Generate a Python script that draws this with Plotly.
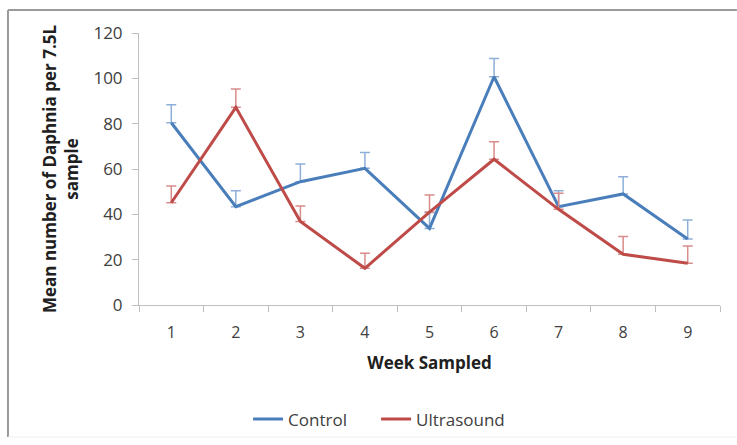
import plotly.graph_objects as go

weeks = ["1", "2", "3", "4", "5", "6", "7", "8", "9"]
control = [80.4, 43.4, 54.4, 60.3, 33.8, 100.7, 43.4, 49.0, 29.1]
control_err = [8.0, 7.0, 7.8, 7.0, 7.0, 8.1, 7.0, 7.6, 8.4]
ultrasound = [45.1, 87.2, 36.8, 16.2, 41.0, 64.3, 42.2, 22.4, 18.4]
ultrasound_err = [7.4, 8.1, 6.9, 6.6, 7.5, 7.7, 7.1, 7.8, 7.6]
y_ticks = [0, 20, 40, 60, 80, 100, 120]

fig = go.Figure()
fig.add_trace(go.Scatter(
    x=weeks, y=control, mode="lines", name="Control",
    line=dict(color="#4a7ebb", width=3),
    error_y=dict(type="data", symmetric=False, array=control_err,
                 arrayminus=[0] * len(control), color="#8eb0d8",
                 thickness=1.5, width=5),
))
fig.add_trace(go.Scatter(
    x=weeks, y=ultrasound, mode="lines", name="Ultrasound",
    line=dict(color="#be4b48", width=3),
    error_y=dict(type="data", symmetric=False, array=ultrasound_err,
                 arrayminus=[0] * len(ultrasound), color="#d98c8a",
                 thickness=1.5, width=5),
))

font_fam = "'Open Sans', sans-serif"
fig.update_layout(
    width=737, height=445,
    margin=dict(l=139, r=17, t=33, b=140, autoexpand=False),
    paper_bgcolor="white", plot_bgcolor="white",
    font=dict(family=font_fam, color="#404040", size=15),
    showlegend=True,
    legend=dict(orientation="h", x=0.408, xanchor="center", y=-0.355, yanchor="top",
                font=dict(size=17, color="#404040"), traceorder="normal",
                bgcolor="rgba(0,0,0,0)",
                entrywidth=83, entrywidthmode="pixels"),
    xaxis=dict(type="category", range=[-0.5, 8.5], tickson="boundaries",
               ticks="outside", ticklen=6, tickcolor="#bfbfbf", automargin=False,
               showline=True, linecolor="#bfbfbf", linewidth=1,
               showgrid=False, zeroline=False, ticklabelstandoff=13,
               tickfont=dict(size=16, color="#404040"),
               title=dict(text="<b>Week Sampled</b>", font=dict(size=17, color="#202020"),
                          standoff=14)),
    yaxis=dict(range=[0, 120], tickvals=y_ticks, ticks="outside", ticklen=6,
               tickcolor="#bfbfbf", showline=True, linecolor="#bfbfbf", linewidth=1,
               showgrid=False, zeroline=False, ticklabelstandoff=6, automargin=False,
               tickfont=dict(size=17, color="#404040"),
               title=dict(text="<b>Mean number of Daphnia per 7.5L<br>sample</b>",
                          font=dict(size=17, color="#202020"), standoff=10)),
    shapes=[
        dict(type="line", xref="paper", yref="paper", x0=-0.2255, x1=1.029, y0=1.0846, y1=1.0846,
             line=dict(color="#9a9a9a", width=2)),
        dict(type="line", xref="paper", yref="paper", x0=-0.2255, x1=-0.2255, y0=-0.485, y1=1.0846,
             line=dict(color="#9a9a9a", width=2)),
        dict(type="line", xref="paper", yref="paper", x0=-0.2255, x1=1.029, y0=-0.485, y1=-0.485,
             line=dict(color="#eeeeee", width=1)),
    ],
)

fig.write_html("out.html")
